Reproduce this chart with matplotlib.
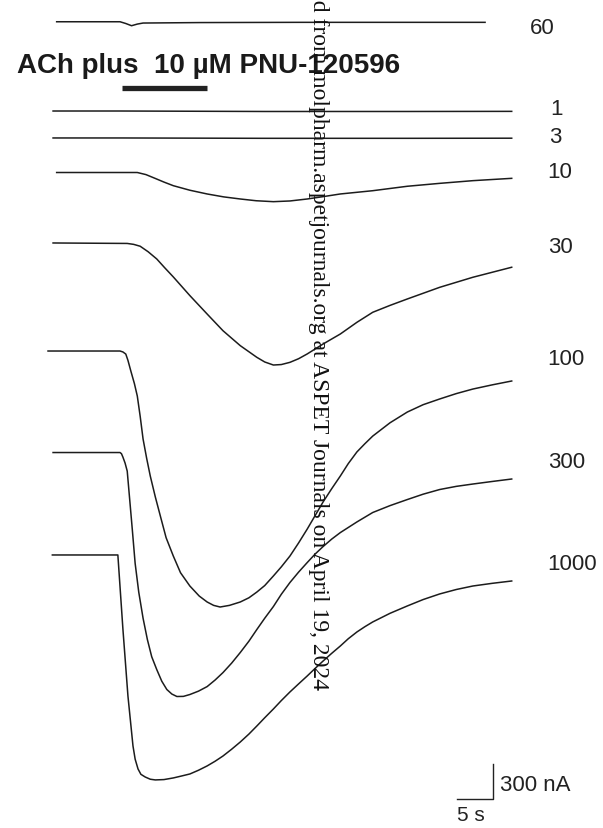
#! /usr/bin/env python3

"""
Current traces evoked by ACh in the presence of 10 uM PNU-120596,
stacked by ACh concentration (uM), with a 5 s / 300 nA scale bar.
"""

import matplotlib

matplotlib.use("Agg")
import matplotlib.pyplot as plt

# ACh concentrations (uM), top to bottom
concentrations = ["60", "1", "3", "10", "30", "100", "300", "1000"]

# time (s, 0 = start of application) and current (nA, relative to baseline)
t_60 = [-8.8, 0.0, 0.8, 1.6, 2.4, 3.2, 11.1, 25.0, 38.9, 50.7]
i_60 = [0, 0, -15, -34, -20, -11, -7, -5, -5, -5]

t_1 = [-9.3, 0.0, 20.0, 40.0, 54.4]
i_1 = [0, 0, -4, -4, -3]

t_3 = [-9.3, 0.0, 20.0, 40.0, 54.4]
i_3 = [0, 0, -3, -3, -2]

t_10 = [-8.8, 2.4, 3.6, 4.9, 6.1, 7.4, 9.7, 12.1, 14.4, 16.7, 18.9, 21.3,
        23.6, 26.0, 28.3, 30.6, 35.1, 39.9, 44.4, 49.0, 54.4]
i_10 = [0, 0, -18, -51, -82, -113, -152, -184, -209, -227, -242, -250,
        -244, -227, -206, -184, -156, -118, -93, -70, -50]

t_30 = [-9.3, 1.0, 1.9, 2.8, 3.9, 5.1, 6.2, 7.4, 9.7, 12.1, 14.3, 16.7,
        19.0, 20.1, 21.3, 22.4, 23.6, 24.8, 26.0, 28.2, 30.6, 32.9, 35.1,
        37.5, 39.9, 44.4, 49.0, 54.4]
i_30 = [0, -4, -12, -28, -75, -137, -212, -291, -451, -609, -752, -880,
        -980, -1020, -1046, -1042, -1023, -992, -951, -866, -780, -680, -594,
        -535, -480, -380, -294, -208]

t_100 = [-10.0, 0.0, 0.4, 0.8, 1.1, 1.5, 2.0, 2.4, 2.8, 3.2, 3.7, 4.2, 4.9,
         5.6, 6.4, 7.4, 8.4, 9.7, 11.0, 12.1, 13.0, 13.9, 15.2, 16.7, 17.9,
         19.0, 20.1, 21.3, 22.4, 23.6, 24.8, 26.0, 27.1, 28.2, 29.4, 30.6,
         31.7, 32.9, 34.0, 35.1, 37.5, 39.9, 42.1, 44.4, 46.7, 49.0, 51.7,
         54.4]
i_100 = [0, 0, -8, -26, -80, -171, -280, -386, -560, -754, -920, -1071,
         -1250, -1414, -1600, -1757, -1900, -2014, -2100, -2151, -2180,
         -2194, -2180, -2151, -2115, -2066, -2010, -1928, -1850, -1757,
         -1645, -1526, -1410, -1294, -1180, -1071, -965, -865, -795, -729,
         -615, -523, -460, -411, -365, -326, -290, -257]

t_300 = [-9.3, 0.0, 0.2, 0.4, 0.7, 1.0, 1.7, 2.1, 2.6, 3.2, 3.8, 4.4, 5.1,
         5.8, 6.5, 7.2, 7.9, 8.8, 9.7, 10.9, 12.1, 13.2, 14.3, 15.5, 16.7,
         17.9, 19.0, 20.1, 21.3, 22.4, 23.6, 24.8, 26.0, 27.1, 28.2, 29.4,
         30.6, 32.9, 35.1, 37.5, 39.9, 42.1, 44.4, 46.7, 49.0, 51.7, 54.4]
i_300 = [0, 0, -10, -39, -90, -159, -656, -950, -1196, -1420, -1603, -1750,
         -1860, -1960, -2031, -2070, -2091, -2090, -2074, -2045, -2006,
         -1950, -1886, -1805, -1714, -1617, -1517, -1420, -1320, -1215,
         -1114, -1025, -943, -870, -806, -742, -686, -595, -514, -455, -403,
         -357, -317, -290, -270, -248, -227]

t_1000 = [-9.4, -0.3, 0.4, 1.1, 1.8, 2.1, 2.5, 2.9, 3.5, 4.2, 4.9, 6.1, 7.4,
          8.5, 9.7, 10.9, 12.1, 13.2, 14.3, 15.5, 16.7, 17.9, 19.0, 20.1,
          21.3, 22.4, 23.6, 24.8, 26.0, 27.1, 28.2, 29.4, 30.6, 31.7, 32.9,
          34.0, 35.1, 37.5, 39.9, 42.1, 44.4, 46.7, 49.0, 51.7, 54.4]
i_1000 = [0, 0, -634, -1209, -1637, -1750, -1834, -1880, -1903, -1922,
          -1928, -1925, -1911, -1895, -1877, -1845, -1808, -1768, -1723,
          -1665, -1603, -1535, -1466, -1395, -1320, -1248, -1174, -1105,
          -1037, -972, -909, -843, -780, -718, -660, -615, -574, -500, -437,
          -382, -334, -296, -266, -243, -223]

times = [t_60, t_1, t_3, t_10, t_30, t_100, t_300, t_1000]
currents = [i_60, i_1, i_3, i_10, i_30, i_100, i_300, i_1000]

# application period (s)
application = [0.3, 12.1]

# layout: vertical baseline of each trace and its label (nA units)
baselines = [-195, -960, -1191, -1487, -2091, -3017, -3887, -4765]
label_y = [-291, -986, -1226, -1526, -2168, -3128, -4011, -4885]
label_x = [56.9, 59.8, 59.6, 59.4, 59.4, 59.4, 59.4, 59.4]

fig = plt.figure(figsize=(6.03, 8.29), dpi=100)
ax = fig.add_axes([0, 0, 1, 1])
ax.set_xlim(-16.67, 67.08)
ax.set_ylim(-7105, 0)
ax.axis("off")

for t, cur, base in zip(times, currents, baselines):
    ax.plot(t, [base + c for c in cur], color="#1c1c1c", lw=1.1,
            solid_joinstyle="round")

for lab, lx, ly in zip(concentrations, label_x, label_y):
    ax.text(lx, ly, lab, fontsize=16, family="Liberation Sans",
            color="#222222", ha="left", va="baseline")

ax.text(-14.3, -626, "ACh plus  10 \u00b5M PNU-120596", fontsize=20,
        fontweight="bold", family="Liberation Sans", color="#1a1a1a",
        ha="left", va="baseline")
ax.plot(application, [-763, -763], color="#222222", lw=3.8,
        solid_capstyle="butt")

# scale bar: 5 s, 300 nA
ax.plot([46.76, 51.76, 51.76], [-6857, -6857, -6557], color="#222222",
        lw=1.0)
ax.text(52.8, -6780, "300 nA", fontsize=16, family="Liberation Sans",
        color="#222222", ha="left", va="baseline")
ax.text(46.8, -7040, "5 s", fontsize=15, family="Liberation Sans",
        color="#222222", ha="left", va="baseline")

ax.text(27.5, -5914,
        "Downloaded from molpharm.aspetjournals.org at ASPET Journals on "
        "April 19, 2024",
        fontsize=17, family="Liberation Serif", color="#111111",
        rotation=270, ha="center", va="bottom")

fig.savefig("out.png", dpi=100)
